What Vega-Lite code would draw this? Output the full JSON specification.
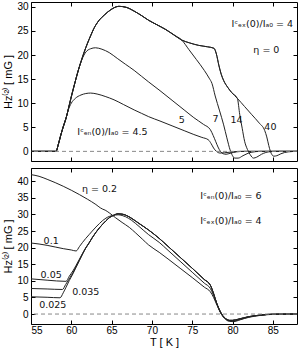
{
  "$schema": "https://vega.github.io/schema/vega-lite/v6.json",
  "padding": {"left": 2, "top": 1, "right": 2, "bottom": 0},
  "spacing": 5,
  "datasets": {
    "top": [
      {"s":"4.5","T":55,"H":0},{"s":"4.5","T":58.1,"H":0},{"s":"4.5","T":58.4,"H":1.5},{"s":"4.5","T":58.7,"H":3.4},{"s":"4.5","T":59.0,"H":5.1},{"s":"4.5","T":59.35,"H":6.9},{"s":"4.5","T":59.65,"H":8.7},{"s":"4.5","T":60.0,"H":10.0},{"s":"4.5","T":60.5,"H":11.0},{"s":"4.5","T":61.2,"H":11.7},{"s":"4.5","T":61.8,"H":12.0},{"s":"4.5","T":62.4,"H":12.1},{"s":"4.5","T":63.2,"H":11.9},{"s":"4.5","T":64.2,"H":11.4},{"s":"4.5","T":65.3,"H":10.7},{"s":"4.5","T":66.5,"H":9.7},{"s":"4.5","T":67.8,"H":8.6},{"s":"4.5","T":68.7,"H":7.9},{"s":"4.5","T":69.6,"H":7.2},{"s":"4.5","T":71.0,"H":6.3},{"s":"4.5","T":72.5,"H":5.3},{"s":"4.5","T":74.0,"H":4.3},{"s":"4.5","T":75.2,"H":3.5},{"s":"4.5","T":76.2,"H":2.9},{"s":"4.5","T":77.0,"H":2.4},{"s":"4.5","T":77.35,"H":1.6},{"s":"4.5","T":77.65,"H":0.7},{"s":"4.5","T":78.0,"H":0.0},{"s":"4.5","T":78.45,"H":-0.35},{"s":"4.5","T":79.0,"H":-0.3},{"s":"4.5","T":80,"H":-0.1},{"s":"4.5","T":81,"H":0},{"s":"4.5","T":88,"H":0},

      {"s":"5","T":55,"H":0},{"s":"5","T":58.1,"H":0},{"s":"5","T":58.4,"H":1.5},{"s":"5","T":58.7,"H":3.4},{"s":"5","T":59.0,"H":5.1},{"s":"5","T":59.35,"H":6.9},{"s":"5","T":59.65,"H":8.9},{"s":"5","T":59.95,"H":11.0},{"s":"5","T":60.3,"H":13.3},{"s":"5","T":60.6,"H":15.2},{"s":"5","T":60.9,"H":17.0},{"s":"5","T":61.3,"H":19.0},{"s":"5","T":61.8,"H":20.6},{"s":"5","T":62.4,"H":21.3},{"s":"5","T":63.0,"H":21.5},{"s":"5","T":63.8,"H":21.2},{"s":"5","T":64.7,"H":20.5},{"s":"5","T":65.7,"H":19.3},{"s":"5","T":66.7,"H":18.1},{"s":"5","T":67.8,"H":16.8},{"s":"5","T":68.7,"H":15.6},{"s":"5","T":69.6,"H":14.4},{"s":"5","T":71.0,"H":12.6},{"s":"5","T":72.5,"H":10.6},{"s":"5","T":74.0,"H":8.6},{"s":"5","T":75.2,"H":7.0},{"s":"5","T":76.4,"H":5.6},{"s":"5","T":77.25,"H":4.5},{"s":"5","T":77.6,"H":3.3},{"s":"5","T":77.9,"H":2.1},{"s":"5","T":78.2,"H":0.9},{"s":"5","T":78.5,"H":0.0},{"s":"5","T":78.85,"H":-0.5},{"s":"5","T":79.2,"H":-0.6},{"s":"5","T":79.7,"H":-0.4},{"s":"5","T":80.5,"H":-0.1},{"s":"5","T":81.5,"H":0},{"s":"5","T":88,"H":0},

      {"s":"7","T":55,"H":0},{"s":"7","T":58.1,"H":0},{"s":"7","T":58.4,"H":1.5},{"s":"7","T":58.7,"H":3.4},{"s":"7","T":59.0,"H":5.1},{"s":"7","T":59.35,"H":6.9},{"s":"7","T":59.65,"H":8.9},{"s":"7","T":59.95,"H":11.0},{"s":"7","T":60.3,"H":13.3},{"s":"7","T":60.6,"H":15.2},{"s":"7","T":60.9,"H":17.0},{"s":"7","T":61.2,"H":18.6},{"s":"7","T":61.6,"H":20.6},{"s":"7","T":62.0,"H":22.4},{"s":"7","T":62.4,"H":24.0},{"s":"7","T":62.8,"H":25.5},{"s":"7","T":63.4,"H":27.1},{"s":"7","T":64.1,"H":28.3},{"s":"7","T":64.9,"H":29.4},{"s":"7","T":65.9,"H":30.1},{"s":"7","T":66.8,"H":29.9},{"s":"7","T":67.8,"H":29.1},{"s":"7","T":68.7,"H":28.2},{"s":"7","T":69.6,"H":27.2},{"s":"7","T":70.6,"H":26.3},{"s":"7","T":71.7,"H":25.3},{"s":"7","T":72.7,"H":24.2},{"s":"7","T":73.7,"H":23.1},{"s":"7","T":74.6,"H":21.1},{"s":"7","T":75.5,"H":19.1},{"s":"7","T":76.5,"H":16.8},{"s":"7","T":77.1,"H":15.2},{"s":"7","T":77.45,"H":14.1},{"s":"7","T":77.85,"H":11.5},{"s":"7","T":78.4,"H":8.4},{"s":"7","T":78.9,"H":5.5},{"s":"7","T":79.3,"H":2.8},{"s":"7","T":79.7,"H":0.3},{"s":"7","T":80.0,"H":-0.9},{"s":"7","T":80.3,"H":-1.4},{"s":"7","T":80.7,"H":-1.4},{"s":"7","T":81.3,"H":-0.9},{"s":"7","T":82.3,"H":-0.2},{"s":"7","T":83.5,"H":0},{"s":"7","T":88,"H":0},

      {"s":"14","T":55,"H":0},{"s":"14","T":58.1,"H":0},{"s":"14","T":58.4,"H":1.5},{"s":"14","T":58.7,"H":3.4},{"s":"14","T":59.0,"H":5.1},{"s":"14","T":59.35,"H":6.9},{"s":"14","T":59.65,"H":8.9},{"s":"14","T":59.95,"H":11.0},{"s":"14","T":60.3,"H":13.3},{"s":"14","T":60.6,"H":15.2},{"s":"14","T":60.9,"H":17.0},{"s":"14","T":61.2,"H":18.6},{"s":"14","T":61.6,"H":20.6},{"s":"14","T":62.0,"H":22.4},{"s":"14","T":62.4,"H":24.0},{"s":"14","T":62.8,"H":25.5},{"s":"14","T":63.4,"H":27.1},{"s":"14","T":64.1,"H":28.3},{"s":"14","T":64.9,"H":29.4},{"s":"14","T":65.9,"H":30.1},{"s":"14","T":66.8,"H":29.9},{"s":"14","T":67.8,"H":29.1},{"s":"14","T":68.7,"H":28.2},{"s":"14","T":69.6,"H":27.2},{"s":"14","T":70.6,"H":26.3},{"s":"14","T":71.7,"H":25.3},{"s":"14","T":72.7,"H":24.2},{"s":"14","T":73.7,"H":23.1},{"s":"14","T":74.7,"H":22.5},{"s":"14","T":75.8,"H":22.0},{"s":"14","T":76.9,"H":21.7},{"s":"14","T":77.7,"H":21.4},{"s":"14","T":78.0,"H":20.2},{"s":"14","T":78.3,"H":17.9},{"s":"14","T":78.6,"H":16.0},{"s":"14","T":78.9,"H":14.7},{"s":"14","T":79.4,"H":13.3},{"s":"14","T":79.9,"H":12.2},{"s":"14","T":80.6,"H":11.0},{"s":"14","T":80.9,"H":7.6},{"s":"14","T":81.2,"H":4.8},{"s":"14","T":81.5,"H":2.1},{"s":"14","T":81.85,"H":0.4},{"s":"14","T":82.2,"H":-0.7},{"s":"14","T":82.6,"H":-1.4},{"s":"14","T":83.0,"H":-1.2},{"s":"14","T":83.6,"H":-0.6},{"s":"14","T":84.5,"H":-0.1},{"s":"14","T":85.5,"H":0},{"s":"14","T":88,"H":0},

      {"s":"40","T":55,"H":0},{"s":"40","T":58.1,"H":0},{"s":"40","T":58.4,"H":1.5},{"s":"40","T":58.7,"H":3.4},{"s":"40","T":59.0,"H":5.1},{"s":"40","T":59.35,"H":6.9},{"s":"40","T":59.65,"H":8.9},{"s":"40","T":59.95,"H":11.0},{"s":"40","T":60.3,"H":13.3},{"s":"40","T":60.6,"H":15.2},{"s":"40","T":60.9,"H":17.0},{"s":"40","T":61.2,"H":18.6},{"s":"40","T":61.6,"H":20.6},{"s":"40","T":62.0,"H":22.4},{"s":"40","T":62.4,"H":24.0},{"s":"40","T":62.8,"H":25.5},{"s":"40","T":63.4,"H":27.1},{"s":"40","T":64.1,"H":28.3},{"s":"40","T":64.9,"H":29.4},{"s":"40","T":65.9,"H":30.1},{"s":"40","T":66.8,"H":29.9},{"s":"40","T":67.8,"H":29.1},{"s":"40","T":68.7,"H":28.2},{"s":"40","T":69.6,"H":27.2},{"s":"40","T":70.6,"H":26.3},{"s":"40","T":71.7,"H":25.3},{"s":"40","T":72.7,"H":24.2},{"s":"40","T":73.7,"H":23.1},{"s":"40","T":74.7,"H":22.5},{"s":"40","T":75.8,"H":22.0},{"s":"40","T":76.9,"H":21.7},{"s":"40","T":77.7,"H":21.4},{"s":"40","T":78.0,"H":20.2},{"s":"40","T":78.3,"H":17.9},{"s":"40","T":78.6,"H":16.0},{"s":"40","T":78.9,"H":14.7},{"s":"40","T":79.4,"H":13.3},{"s":"40","T":79.9,"H":12.2},{"s":"40","T":80.6,"H":11.0},{"s":"40","T":81.5,"H":9.3},{"s":"40","T":82.4,"H":7.6},{"s":"40","T":83.3,"H":5.9},{"s":"40","T":84.0,"H":4.3},{"s":"40","T":84.25,"H":3.0},{"s":"40","T":84.5,"H":1.2},{"s":"40","T":84.7,"H":0},{"s":"40","T":84.9,"H":-0.7},{"s":"40","T":85.1,"H":-1.0},{"s":"40","T":85.5,"H":-0.9},{"s":"40","T":86.0,"H":-0.5},{"s":"40","T":86.9,"H":-0.1},{"s":"40","T":88,"H":0}
    ],
    "bottom": [
      {"s":"0.025","T":55,"H":5.2},{"s":"0.025","T":57,"H":5.05},{"s":"0.025","T":58.6,"H":4.9},{"s":"0.025","T":59.0,"H":6.4},{"s":"0.025","T":59.35,"H":8.1},{"s":"0.025","T":59.75,"H":10.1},{"s":"0.025","T":60.2,"H":12.1},{"s":"0.025","T":60.6,"H":14.1},{"s":"0.025","T":61.0,"H":16.1},{"s":"0.025","T":61.4,"H":18.1},{"s":"0.025","T":61.8,"H":19.9},{"s":"0.025","T":62.2,"H":21.4},{"s":"0.025","T":62.6,"H":23.0},{"s":"0.025","T":63.05,"H":24.6},{"s":"0.025","T":63.5,"H":26.0},{"s":"0.025","T":63.9,"H":27.1},{"s":"0.025","T":64.3,"H":28.1},{"s":"0.025","T":64.7,"H":29.0},{"s":"0.025","T":65.2,"H":29.7},{"s":"0.025","T":65.8,"H":30.2},{"s":"0.025","T":66.3,"H":30.1},{"s":"0.025","T":66.75,"H":29.8},{"s":"0.025","T":67.5,"H":28.8},{"s":"0.025","T":68.4,"H":27.3},{"s":"0.025","T":69.6,"H":25.3},{"s":"0.025","T":70.9,"H":22.8},{"s":"0.025","T":72,"H":20.4},{"s":"0.025","T":73.5,"H":17.1},{"s":"0.025","T":75,"H":13.8},{"s":"0.025","T":76.5,"H":10.4},{"s":"0.025","T":77.25,"H":8.7},{"s":"0.025","T":77.65,"H":6.2},{"s":"0.025","T":78.05,"H":3.2},{"s":"0.025","T":78.5,"H":0.6},{"s":"0.025","T":78.8,"H":-0.6},{"s":"0.025","T":79.2,"H":-1.5},{"s":"0.025","T":79.6,"H":-1.9},{"s":"0.025","T":80.0,"H":-1.9},{"s":"0.025","T":80.8,"H":-1.5},{"s":"0.025","T":82.0,"H":-0.8},{"s":"0.025","T":83.5,"H":-0.3},{"s":"0.025","T":85,"H":-0.05},{"s":"0.025","T":88,"H":0},

      {"s":"0.035","T":55,"H":7.7},{"s":"0.035","T":57,"H":7.55},{"s":"0.035","T":58.9,"H":7.4},{"s":"0.035","T":59.3,"H":8.9},{"s":"0.035","T":59.75,"H":10.6},{"s":"0.035","T":60.2,"H":12.5},{"s":"0.035","T":60.6,"H":14.3},{"s":"0.035","T":61.0,"H":16.2},{"s":"0.035","T":61.4,"H":18.1},{"s":"0.035","T":61.8,"H":19.9},{"s":"0.035","T":62.2,"H":21.4},{"s":"0.035","T":62.6,"H":23.0},{"s":"0.035","T":63.05,"H":24.6},{"s":"0.035","T":63.5,"H":26.0},{"s":"0.035","T":63.9,"H":27.1},{"s":"0.035","T":64.3,"H":28.1},{"s":"0.035","T":64.7,"H":29.0},{"s":"0.035","T":65.2,"H":29.7},{"s":"0.035","T":65.8,"H":30.2},{"s":"0.035","T":66.3,"H":30.1},{"s":"0.035","T":66.75,"H":29.8},{"s":"0.035","T":67.5,"H":28.8},{"s":"0.035","T":68.4,"H":27.3},{"s":"0.035","T":69.6,"H":25.3},{"s":"0.035","T":70.9,"H":22.8},{"s":"0.035","T":72,"H":20.4},{"s":"0.035","T":73.5,"H":17.1},{"s":"0.035","T":75,"H":13.8},{"s":"0.035","T":76.5,"H":10.4},{"s":"0.035","T":77.25,"H":8.7},{"s":"0.035","T":77.65,"H":6.2},{"s":"0.035","T":78.05,"H":3.2},{"s":"0.035","T":78.5,"H":0.6},{"s":"0.035","T":78.8,"H":-0.6},{"s":"0.035","T":79.2,"H":-1.5},{"s":"0.035","T":79.6,"H":-1.9},{"s":"0.035","T":80.0,"H":-1.9},{"s":"0.035","T":80.8,"H":-1.5},{"s":"0.035","T":82.0,"H":-0.8},{"s":"0.035","T":83.5,"H":-0.3},{"s":"0.035","T":85,"H":-0.05},{"s":"0.035","T":88,"H":0},

      {"s":"0.05","T":55,"H":10.6},{"s":"0.05","T":57,"H":10.2},{"s":"0.05","T":59.35,"H":9.85},{"s":"0.05","T":59.75,"H":11.4},{"s":"0.05","T":60.2,"H":13.0},{"s":"0.05","T":60.6,"H":14.7},{"s":"0.05","T":61.0,"H":16.5},{"s":"0.05","T":61.4,"H":18.3},{"s":"0.05","T":61.8,"H":20.0},{"s":"0.05","T":62.2,"H":21.4},{"s":"0.05","T":62.6,"H":23.0},{"s":"0.05","T":63.05,"H":24.6},{"s":"0.05","T":63.5,"H":26.0},{"s":"0.05","T":63.9,"H":27.1},{"s":"0.05","T":64.3,"H":28.1},{"s":"0.05","T":64.7,"H":29.0},{"s":"0.05","T":65.2,"H":29.7},{"s":"0.05","T":65.8,"H":30.2},{"s":"0.05","T":66.3,"H":30.1},{"s":"0.05","T":66.75,"H":29.8},{"s":"0.05","T":67.5,"H":28.8},{"s":"0.05","T":68.4,"H":27.3},{"s":"0.05","T":69.6,"H":25.3},{"s":"0.05","T":70.9,"H":22.8},{"s":"0.05","T":72,"H":20.4},{"s":"0.05","T":73.5,"H":17.1},{"s":"0.05","T":75,"H":13.8},{"s":"0.05","T":76.5,"H":10.4},{"s":"0.05","T":77.25,"H":8.7},{"s":"0.05","T":77.65,"H":6.2},{"s":"0.05","T":78.05,"H":3.2},{"s":"0.05","T":78.5,"H":0.6},{"s":"0.05","T":78.8,"H":-0.6},{"s":"0.05","T":79.2,"H":-1.5},{"s":"0.05","T":79.6,"H":-1.9},{"s":"0.05","T":80.0,"H":-1.9},{"s":"0.05","T":80.8,"H":-1.5},{"s":"0.05","T":82.0,"H":-0.8},{"s":"0.05","T":83.5,"H":-0.3},{"s":"0.05","T":85,"H":-0.05},{"s":"0.05","T":88,"H":0},

      {"s":"0.1","T":55,"H":21.4},{"s":"0.1","T":56,"H":21.1},{"s":"0.1","T":57,"H":20.7},{"s":"0.1","T":58,"H":20.2},{"s":"0.1","T":59,"H":19.7},{"s":"0.1","T":60,"H":19.3},{"s":"0.1","T":60.6,"H":19.0},{"s":"0.1","T":61.0,"H":20.3},{"s":"0.1","T":61.4,"H":21.6},{"s":"0.1","T":61.8,"H":22.8},{"s":"0.1","T":62.2,"H":23.9},{"s":"0.1","T":62.6,"H":25.0},{"s":"0.1","T":63.05,"H":26.2},{"s":"0.1","T":63.5,"H":27.3},{"s":"0.1","T":63.9,"H":28.2},{"s":"0.1","T":64.3,"H":28.9},{"s":"0.1","T":64.7,"H":29.4},{"s":"0.1","T":65.2,"H":29.7},{"s":"0.1","T":65.8,"H":29.9},{"s":"0.1","T":66.3,"H":29.7},{"s":"0.1","T":66.75,"H":29.3},{"s":"0.1","T":67.5,"H":28.2},{"s":"0.1","T":68.4,"H":26.4},{"s":"0.1","T":69.6,"H":23.9},{"s":"0.1","T":70.9,"H":21.6},{"s":"0.1","T":72,"H":19.2},{"s":"0.1","T":73.5,"H":15.9},{"s":"0.1","T":75,"H":12.6},{"s":"0.1","T":76.5,"H":9.3},{"s":"0.1","T":77.25,"H":7.7},{"s":"0.1","T":77.65,"H":5.6},{"s":"0.1","T":78.1,"H":2.8},{"s":"0.1","T":78.6,"H":0.3},{"s":"0.1","T":79.0,"H":-1.0},{"s":"0.1","T":79.6,"H":-2.0},{"s":"0.1","T":80.1,"H":-2.1},{"s":"0.1","T":81,"H":-1.6},{"s":"0.1","T":82,"H":-0.9},{"s":"0.1","T":83.5,"H":-0.35},{"s":"0.1","T":85,"H":-0.05},{"s":"0.1","T":88,"H":0},

      {"s":"0.2","T":55,"H":42.0},{"s":"0.2","T":56,"H":41.5},{"s":"0.2","T":57,"H":40.6},{"s":"0.2","T":58,"H":39.6},{"s":"0.2","T":59,"H":38.5},{"s":"0.2","T":60,"H":37.3},{"s":"0.2","T":61,"H":36.0},{"s":"0.2","T":62,"H":34.6},{"s":"0.2","T":63.05,"H":33.0},{"s":"0.2","T":63.6,"H":32.0},{"s":"0.2","T":63.9,"H":31.6},{"s":"0.2","T":64.2,"H":31.3},{"s":"0.2","T":64.7,"H":30.5},{"s":"0.2","T":65.5,"H":29.0},{"s":"0.2","T":66.3,"H":27.6},{"s":"0.2","T":67.2,"H":26.1},{"s":"0.2","T":68.0,"H":24.4},{"s":"0.2","T":68.8,"H":22.6},{"s":"0.2","T":69.6,"H":20.8},{"s":"0.2","T":70.9,"H":18.6},{"s":"0.2","T":72,"H":16.6},{"s":"0.2","T":73.5,"H":13.8},{"s":"0.2","T":75,"H":11.0},{"s":"0.2","T":76.5,"H":8.1},{"s":"0.2","T":77.25,"H":6.7},{"s":"0.2","T":77.65,"H":5.0},{"s":"0.2","T":78.1,"H":2.5},{"s":"0.2","T":78.6,"H":0.0},{"s":"0.2","T":79.0,"H":-1.3},{"s":"0.2","T":79.6,"H":-2.2},{"s":"0.2","T":80.1,"H":-2.3},{"s":"0.2","T":81,"H":-1.7},{"s":"0.2","T":82,"H":-1.0},{"s":"0.2","T":83.5,"H":-0.4},{"s":"0.2","T":85,"H":-0.1},{"s":"0.2","T":88,"H":0}
    ],
    "toplabels": [
      {"t":"Iᶜₑₙ(0)/Iₐ₀ = 4.5","T":65.1,"H":4.1},
      {"t":"Iᶜₑₓ(0)/Iₐ₀ = 4","T":83.7,"H":26.5},
      {"t":"η = 0","T":84.2,"H":21.1},
      {"t":"5","T":73.7,"H":6.6},
      {"t":"7","T":77.9,"H":6.8},
      {"t":"14","T":80.5,"H":6.6},
      {"t":"40","T":84.7,"H":5.0}
    ],
    "bottomlabels": [
      {"t":"η = 0.2","T":63.5,"H":37.6},
      {"t":"0.1","T":57.5,"H":22.1},
      {"t":"0.05","T":57.5,"H":11.9},
      {"t":"0.035","T":61.8,"H":6.7},
      {"t":"0.025","T":57.7,"H":2.7},
      {"t":"Iᶜₑₙ(0)/Iₐ₀ = 6","T":79.8,"H":35.5},
      {"t":"Iᶜₑₓ(0)/Iₐ₀ = 4","T":79.8,"H":28.1}
    ]
  },
  "vconcat": [
    {
      "width": 266,
      "height": 159,
      "layer": [
        {
          "data": {"name": "top"},
          "mark": {"type": "line", "color": "#222222", "strokeWidth": 1, "interpolate": "monotone"},
          "encoding": {
            "x": {"field": "T", "type": "quantitative", "scale": {"domain": [55, 88], "nice": false, "zero": false}, "axis": {"values": [55,60,65,70,75,80,85], "labels": false, "title": null}},
            "y": {"field": "H", "type": "quantitative", "scale": {"domain": [-2, 31], "nice": false, "zero": false}, "axis": {"values": [0,5,10,15,20,25,30], "title": "Hz⁽²⁾ [ mG ]"}},
            "detail": {"field": "s"}
          }
        },
        {
          "data": {"values": [{}]},
          "mark": {"type": "rule", "color": "#888888", "strokeDash": [4, 3], "strokeWidth": 1},
          "encoding": {"y": {"datum": 0, "axis": null}}
        },
        {
          "data": {"name": "toplabels"},
          "mark": {"type": "text", "align": "center", "baseline": "middle", "fontSize": 9.5, "font": "DejaVu Sans", "color": "#111111"},
          "encoding": {
            "x": {"field": "T", "type": "quantitative", "axis": {"orient": "top", "values": [55,60,65,70,75,80,85], "labels": false, "title": null}},
            "y": {"field": "H", "type": "quantitative", "axis": {"orient": "right", "values": [0,5,10,15,20,25,30], "labels": false, "title": null}},
            "text": {"field": "t"}
          }
        }
      ],
      "resolve": {"axis": {"x": "independent", "y": "independent"}}
    },
    {
      "width": 266,
      "height": 156,
      "layer": [
        {
          "data": {"name": "bottom"},
          "mark": {"type": "line", "color": "#222222", "strokeWidth": 1, "interpolate": "monotone"},
          "encoding": {
            "x": {"field": "T", "type": "quantitative", "scale": {"domain": [55, 88], "nice": false, "zero": false}, "axis": {"values": [55,60,65,70,75,80,85], "title": "T  [ K ]", "titlePadding": 1, "labelPadding": 5}},
            "y": {"field": "H", "type": "quantitative", "scale": {"domain": [-3, 44], "nice": false, "zero": false}, "axis": {"values": [0,5,10,15,20,25,30,35,40], "title": "Hz⁽²⁾ [ mG ]"}},
            "detail": {"field": "s"}
          }
        },
        {
          "data": {"values": [{}]},
          "mark": {"type": "rule", "color": "#888888", "strokeDash": [4, 3], "strokeWidth": 1},
          "encoding": {"y": {"datum": 0, "axis": null}}
        },
        {
          "data": {"name": "bottomlabels"},
          "mark": {"type": "text", "align": "center", "baseline": "middle", "fontSize": 9.5, "font": "DejaVu Sans", "color": "#111111"},
          "encoding": {
            "x": {"field": "T", "type": "quantitative", "axis": {"orient": "top", "values": [55,60,65,70,75,80,85], "labels": false, "title": null}},
            "y": {"field": "H", "type": "quantitative", "axis": {"orient": "right", "values": [0,5,10,15,20,25,30,35,40], "labels": false, "title": null}},
            "text": {"field": "t"}
          }
        }
      ],
      "resolve": {"axis": {"x": "independent", "y": "independent"}}
    }
  ],
  "config": {
    "view": {"stroke": "black", "strokeWidth": 1},
    "axis": {
      "grid": false,
      "domain": false,
      "tickSize": -4,
      "tickColor": "black",
      "labelFont": "Liberation Sans",
      "labelFontSize": 10,
      "labelColor": "black",
      "labelPadding": 7,
      "titleFont": "Liberation Sans",
      "titleFontSize": 11,
      "titleFontWeight": "normal",
      "titleColor": "black",
      "titlePadding": 3
    },
    "text": {"font": "Liberation Sans"}
  }
}
